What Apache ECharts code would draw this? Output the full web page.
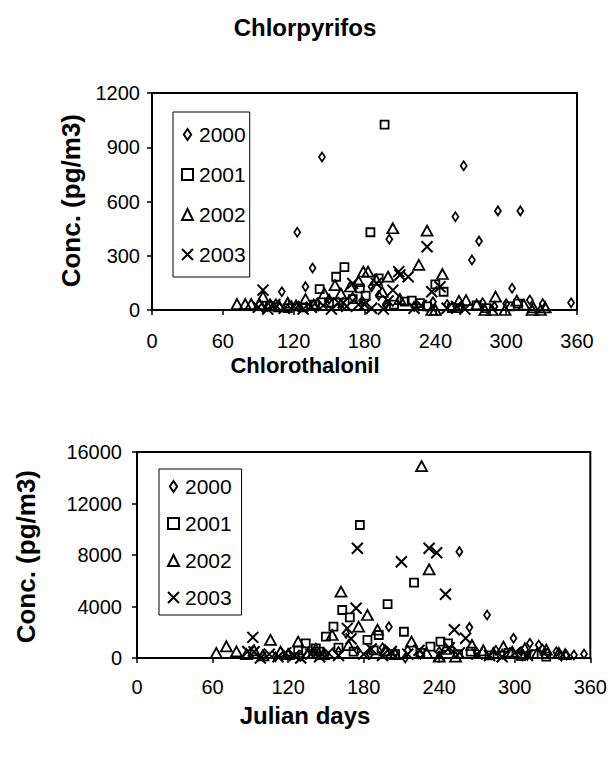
<!DOCTYPE html>
<html>
<head>
<meta charset="utf-8">
<script src="https://cdn.jsdelivr.net/npm/echarts@6/dist/echarts.min.js"></script>
<style>
html,body{margin:0;padding:0;background:#fff;}
#chart{width:610px;height:759px;}
</style>
</head>
<body>
<div id="chart"></div>
<script>
// ---------- DATA ----------
var years = ['2000', '2001', '2002', '2003'];
var xTicks = [0, 60, 120, 180, 240, 300, 360];

// Chlorpyrifos (pg/m3) — Julian day, concentration
var cpf2000Day  = [123,136,144,201,257,264,271,277,293,305,312,355,98,105,110,118,125,130,140,150,160,170,178,186,192,198,210,222,238,250,262,280,290,300,320,331];
var cpf2000Conc = [430,232,846,391,516,798,277,381,548,120,548,40,20,35,101,25,15,129,40,60,30,70,50,129,80,30,60,20,45,30,15,40,20,35,55,35];
var cpf2001Day  = [197,185,163,156,142,192,240,247,214,220,227,100,115,128,138,150,170,176,181,205,233,254,259,275,283,303,310];
var cpf2001Conc = [1025,430,237,184,115,175,142,101,46,52,38,20,10,15,30,40,60,120,80,30,20,10,10,25,10,20,35];
var cpf2002Day  = [204,233,226,246,179,183,190,200,155,146,72,79,84,91,94,100,108,115,122,130,137,160,168,175,195,210,237,240,260,266,275,282,288,291,299,309,315,322,323,329,333];
var cpf2002Conc = [452,439,249,199,212,212,166,184,138,92,33,33,33,33,74,30,20,40,25,60,30,90,130,160,100,60,0,0,50,55,30,0,0,74,0,52,30,0,15,0,15];
var cpf2003Day  = [233,217,210,209,204,190,170,237,244,186,94,90,98,104,112,120,128,135,145,152,158,162,165,175,180,196,200,222,228,250,258,265];
var cpf2003Conc = [350,184,194,212,110,147,147,101,129,10,110,15,5,30,10,20,5,15,25,5,40,40,20,30,30,5,50,10,25,10,20,5];

// Chlorothalonil (pg/m3) — Julian day, concentration
var ctl2000Day  = [256,278,200,264,166,299,312,319,333,341,347,355,100,110,120,130,140,150,160,175,185,195,205,213,215,225,240,250,270,285,290,305,310,322,326,337];
var ctl2000Conc = [8260,3340,2430,2380,1915,1530,1140,1010,490,230,230,310,200,100,300,150,400,250,500,600,300,800,400,0,600,300,500,700,400,600,300,500,200,700,400,150];
var ctl2001Day  = [177,220,199,163,169,156,150,212,183,134,142,233,241,247,192,128,140,145,160,172,188,205,225,255,265,280,295,305,315,325];
var ctl2001Conc = [10330,5850,4190,3730,3160,2430,1655,2040,1400,1140,750,880,1270,1140,1786,600,300,500,800,500,600,300,400,300,500,200,400,150,300,100];
var ctl2002Day  = [226,232,162,183,176,191,155,106,128,218,63,71,79,240,253,87,93,100,114,120,136,142,148,168,197,205,230,245,266,275,283,291,298,308,318,325,335,340];
var ctl2002Conc = [14900,6890,5150,3340,2430,2200,1786,1400,1270,1270,390,910,520,100,100,300,600,200,500,300,400,700,300,1000,600,300,400,700,1010,600,400,880,500,750,400,650,390,300];
var ctl2003Day  = [232,238,210,245,175,174,167,252,261,92,93,88,98,105,112,118,125,130,138,145,152,160,170,180,186,195,202,215,224,240,248,256,270,280,290,300,310];
var ctl2003Conc = [8520,8180,7480,4950,8520,3860,2300,2200,1530,1600,490,500,0,300,100,400,200,0,300,100,400,200,1500,300,700,200,500,300,600,200,800,400,300,200,100,400,200];

// ---------- BUILD ----------
function pairs(d, c) { return d.map(function (v, i) { return [v, c[i]]; }); }

var FONT = 'Liberation Sans, Arial, sans-serif';
var crossPath = 'path://M0,0L10,10M10,0L0,10';
var diamondPath = 'path://M3,0L6,4.5L3,9L0,4.5Z';
var symbols = [diamondPath, 'rect', 'triangle', crossPath];
var sizes = [[6, 9], 8, [11, 10], [11, 11]];

function mkSeries(name, idx, data, axisIdx) {
  return {
    type: 'scatter', name: name, xAxisIndex: axisIdx, yAxisIndex: axisIdx,
    data: data, symbol: symbols[idx], symbolSize: sizes[idx], symbolKeepAspect: false,
    clip: false,
    itemStyle: { color: 'rgba(0,0,0,0)', borderColor: '#000', borderWidth: idx === 3 ? 2 : 1.8, opacity: 1 },
    emphasis: { disabled: true },
    animation: false
  };
}

var topSets = [pairs(cpf2000Day, cpf2000Conc), pairs(cpf2001Day, cpf2001Conc), pairs(cpf2002Day, cpf2002Conc), pairs(cpf2003Day, cpf2003Conc)];
var botSets = [pairs(ctl2000Day, ctl2000Conc), pairs(ctl2001Day, ctl2001Conc), pairs(ctl2002Day, ctl2002Conc), pairs(ctl2003Day, ctl2003Conc)];

var series = [];
years.forEach(function (y, i) { series.push(mkSeries(y, i, topSets[i], 0)); });
years.forEach(function (y, i) { var s = mkSeries(y, i, botSets[i], 1); s.name = y + ' '; series.push(s); });

function plain(v) { return String(v); }

function xAxis(gi, margin) {
  return {
    type: 'value', gridIndex: gi, min: xTicks[0], max: xTicks[xTicks.length - 1], interval: 60,
    axisLine: { show: true, onZero: false, lineStyle: { color: '#000', width: 2 } },
    axisTick: { show: true, inside: false, length: 5, lineStyle: { color: '#000', width: 1.5 } },
    axisLabel: { color: '#000', fontSize: 20, fontFamily: FONT, margin: margin, formatter: plain, lineHeight: 20 },
    splitLine: { show: false }
  };
}
function yAxis(gi, max, interval, margin) {
  return {
    type: 'value', gridIndex: gi, min: 0, max: max, interval: interval,
    axisLine: { show: true, lineStyle: { color: '#000', width: 2 } },
    axisTick: { show: true, inside: false, length: 5, lineStyle: { color: '#000', width: 1.5 } },
    axisLabel: { color: '#000', fontSize: 20, fontFamily: FONT, margin: margin, formatter: plain },
    splitLine: { show: false }
  };
}
function legend(names, left, top, gap, pad) {
  return {
    show: true, orient: 'vertical', left: left, top: top,
    data: names.map(function (n, i) { return { name: n, icon: symbols[i] }; }),
    itemWidth: 11, itemHeight: 11, itemGap: gap,
    symbolKeepAspect: true,
    padding: [pad, 4, pad, 8],
    borderColor: '#000', borderWidth: 1, backgroundColor: '#fff',
    textStyle: { color: '#000', fontSize: 21, fontFamily: FONT, padding: [0, 0, 0, 1] },
    selectedMode: false,
    inactiveColor: '#000'
  };
}

var option = {
  backgroundColor: '#fff',
  animation: false,
  grid: [
    { left: 152, right: 33, top: 93, bottom: 449, show: true, borderColor: '#000', borderWidth: 2, backgroundColor: '#fff' },
    { left: 137, right: 18, top: 452, bottom: 101, show: true, borderColor: '#000', borderWidth: 2, backgroundColor: '#fff' }
  ],
  xAxis: [xAxis(0, 21), xAxis(1, 19)],
  yAxis: [yAxis(0, 1200, 300, 12), yAxis(1, 16000, 4000, 15)],
  legend: [
    legend(years, 173, 112, 19, 12),
    legend(years.map(function (y) { return y + ' '; }), 159, 469, 16, 7)
  ],
  graphic: [
    { type: 'text', left: 'center', top: 15, style: { text: 'Chlorpyrifos', font: 'bold 24px ' + FONT, fill: '#000' } },
    { type: 'text', left: 'center', top: 354, style: { text: 'Chlorothalonil', font: 'bold 22px ' + FONT, fill: '#000' } },
    { type: 'text', left: 'center', top: 703, style: { text: 'Julian days', font: 'bold 24px ' + FONT, fill: '#000' } },
    { type: 'text', left: 58, top: 114, style: { text: 'Conc. (pg/m3)', font: 'bold 26px ' + FONT, fill: '#000' }, rotation: Math.PI / 2 },
    { type: 'text', left: 13, top: 470, style: { text: 'Conc. (pg/m3)', font: 'bold 26px ' + FONT, fill: '#000' }, rotation: Math.PI / 2 }
  ],
  series: series
};

var chart = echarts.init(document.getElementById('chart'), null, { renderer: 'svg' });
chart.setOption(option);
</script>
</body>
</html>
